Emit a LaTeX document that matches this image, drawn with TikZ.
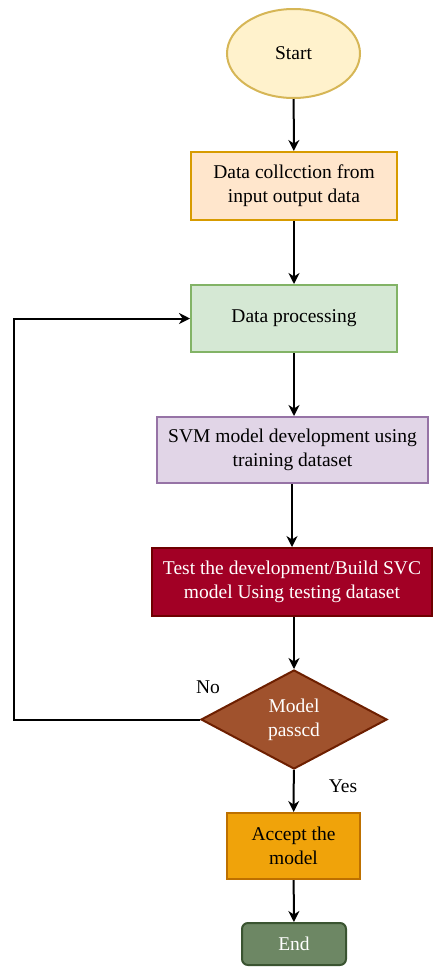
\documentclass[tikz,border=0pt]{standalone}
\usepackage{fontspec}
\setmainfont{Liberation Serif}
\usetikzlibrary{shapes.geometric,arrows.meta}
\definecolor{startfill}{HTML}{FFF2CC}\definecolor{startdraw}{HTML}{D6B656}
\definecolor{onefill}{HTML}{FFE6CC}\definecolor{onedraw}{HTML}{D79B00}
\definecolor{twofill}{HTML}{D5E8D4}\definecolor{twodraw}{HTML}{82B366}
\definecolor{svmfill}{HTML}{E1D5E7}\definecolor{svmdraw}{HTML}{9673A6}
\definecolor{testfill}{HTML}{A20025}\definecolor{testdraw}{HTML}{6F0000}
\definecolor{diafill}{HTML}{A0522D}\definecolor{diadraw}{HTML}{6D1F00}
\definecolor{accfill}{HTML}{F0A30A}\definecolor{accdraw}{HTML}{BD7000}
\definecolor{endfill}{HTML}{6D8764}\definecolor{enddraw}{HTML}{3A5431}
\tikzset{
  base/.style={inner sep=0pt, align=center, line width=2pt, font=\fontsize{19.5}{24}\selectfont},
  procbox/.style={base, rectangle, minimum width=#1},
  arr/.style={draw=black, line width=2pt, -{Stealth[length=11pt,width=11pt,inset=3.5pt]}},
  lbl/.style={inner sep=0pt, font=\fontsize{19.5}{24}\selectfont}
}
\begin{document}
\begin{tikzpicture}[x=1pt,y=-1pt]
\useasboundingbox (0,0) rectangle (433,967);
\node[base, ellipse, draw=startdraw, fill=startfill, minimum width=133pt, minimum height=89pt] (start) at (293.5,53.5) {Start};
\node[procbox=206pt, draw=onedraw, fill=onefill, minimum height=68pt] (coll) at (294,186) {Data collcction from\\input output data};
\node[procbox=206pt, draw=twodraw, fill=twofill, minimum height=67pt] (proc) at (294,318.5) {Data processing};
\node[procbox=271pt, draw=svmdraw, fill=svmfill, minimum height=66pt] (svm) at (292.5,450) {SVM model development using\\training dataset};
\node[procbox=280pt, draw=testdraw, fill=testfill, text=white, minimum height=68pt] (test) at (292,582) {Test the development/Build SVC\\model Using testing dataset};
\node[base, diamond, aspect=1.88, draw=diadraw, fill=diafill, text=white, minimum width=186pt, minimum height=99pt] (dia) at (294,719.5) {Model\\passcd};
\node[procbox=133pt, draw=accdraw, fill=accfill, minimum height=66pt] (acc) at (293.5,846) {Accept the\\model};
\node[procbox=104pt, draw=enddraw, fill=endfill, text=white, minimum height=42pt, rounded corners=6pt] (end) at (294,944) {End};
\coordinate (fb) at (14,719.5);
\node[lbl] (no) at (208,687) {No};
\node[lbl] (yes) at (343,786) {Yes};
\draw[arr] (start) -- (coll);
\draw[arr] (coll) -- (proc);
\draw[arr] (proc) -- (proc |- svm.north);
\draw[arr, line width=1.6pt] (svm.south -| test.north) -- (test.north);
\draw[arr] (test.south -| dia.north) -- (dia.north);
\draw[arr] (dia) -- (acc);
\draw[arr] (acc) -- (end);
\draw[arr] (dia.west) -- (fb) |- (proc.west);
\end{tikzpicture}
\end{document}
